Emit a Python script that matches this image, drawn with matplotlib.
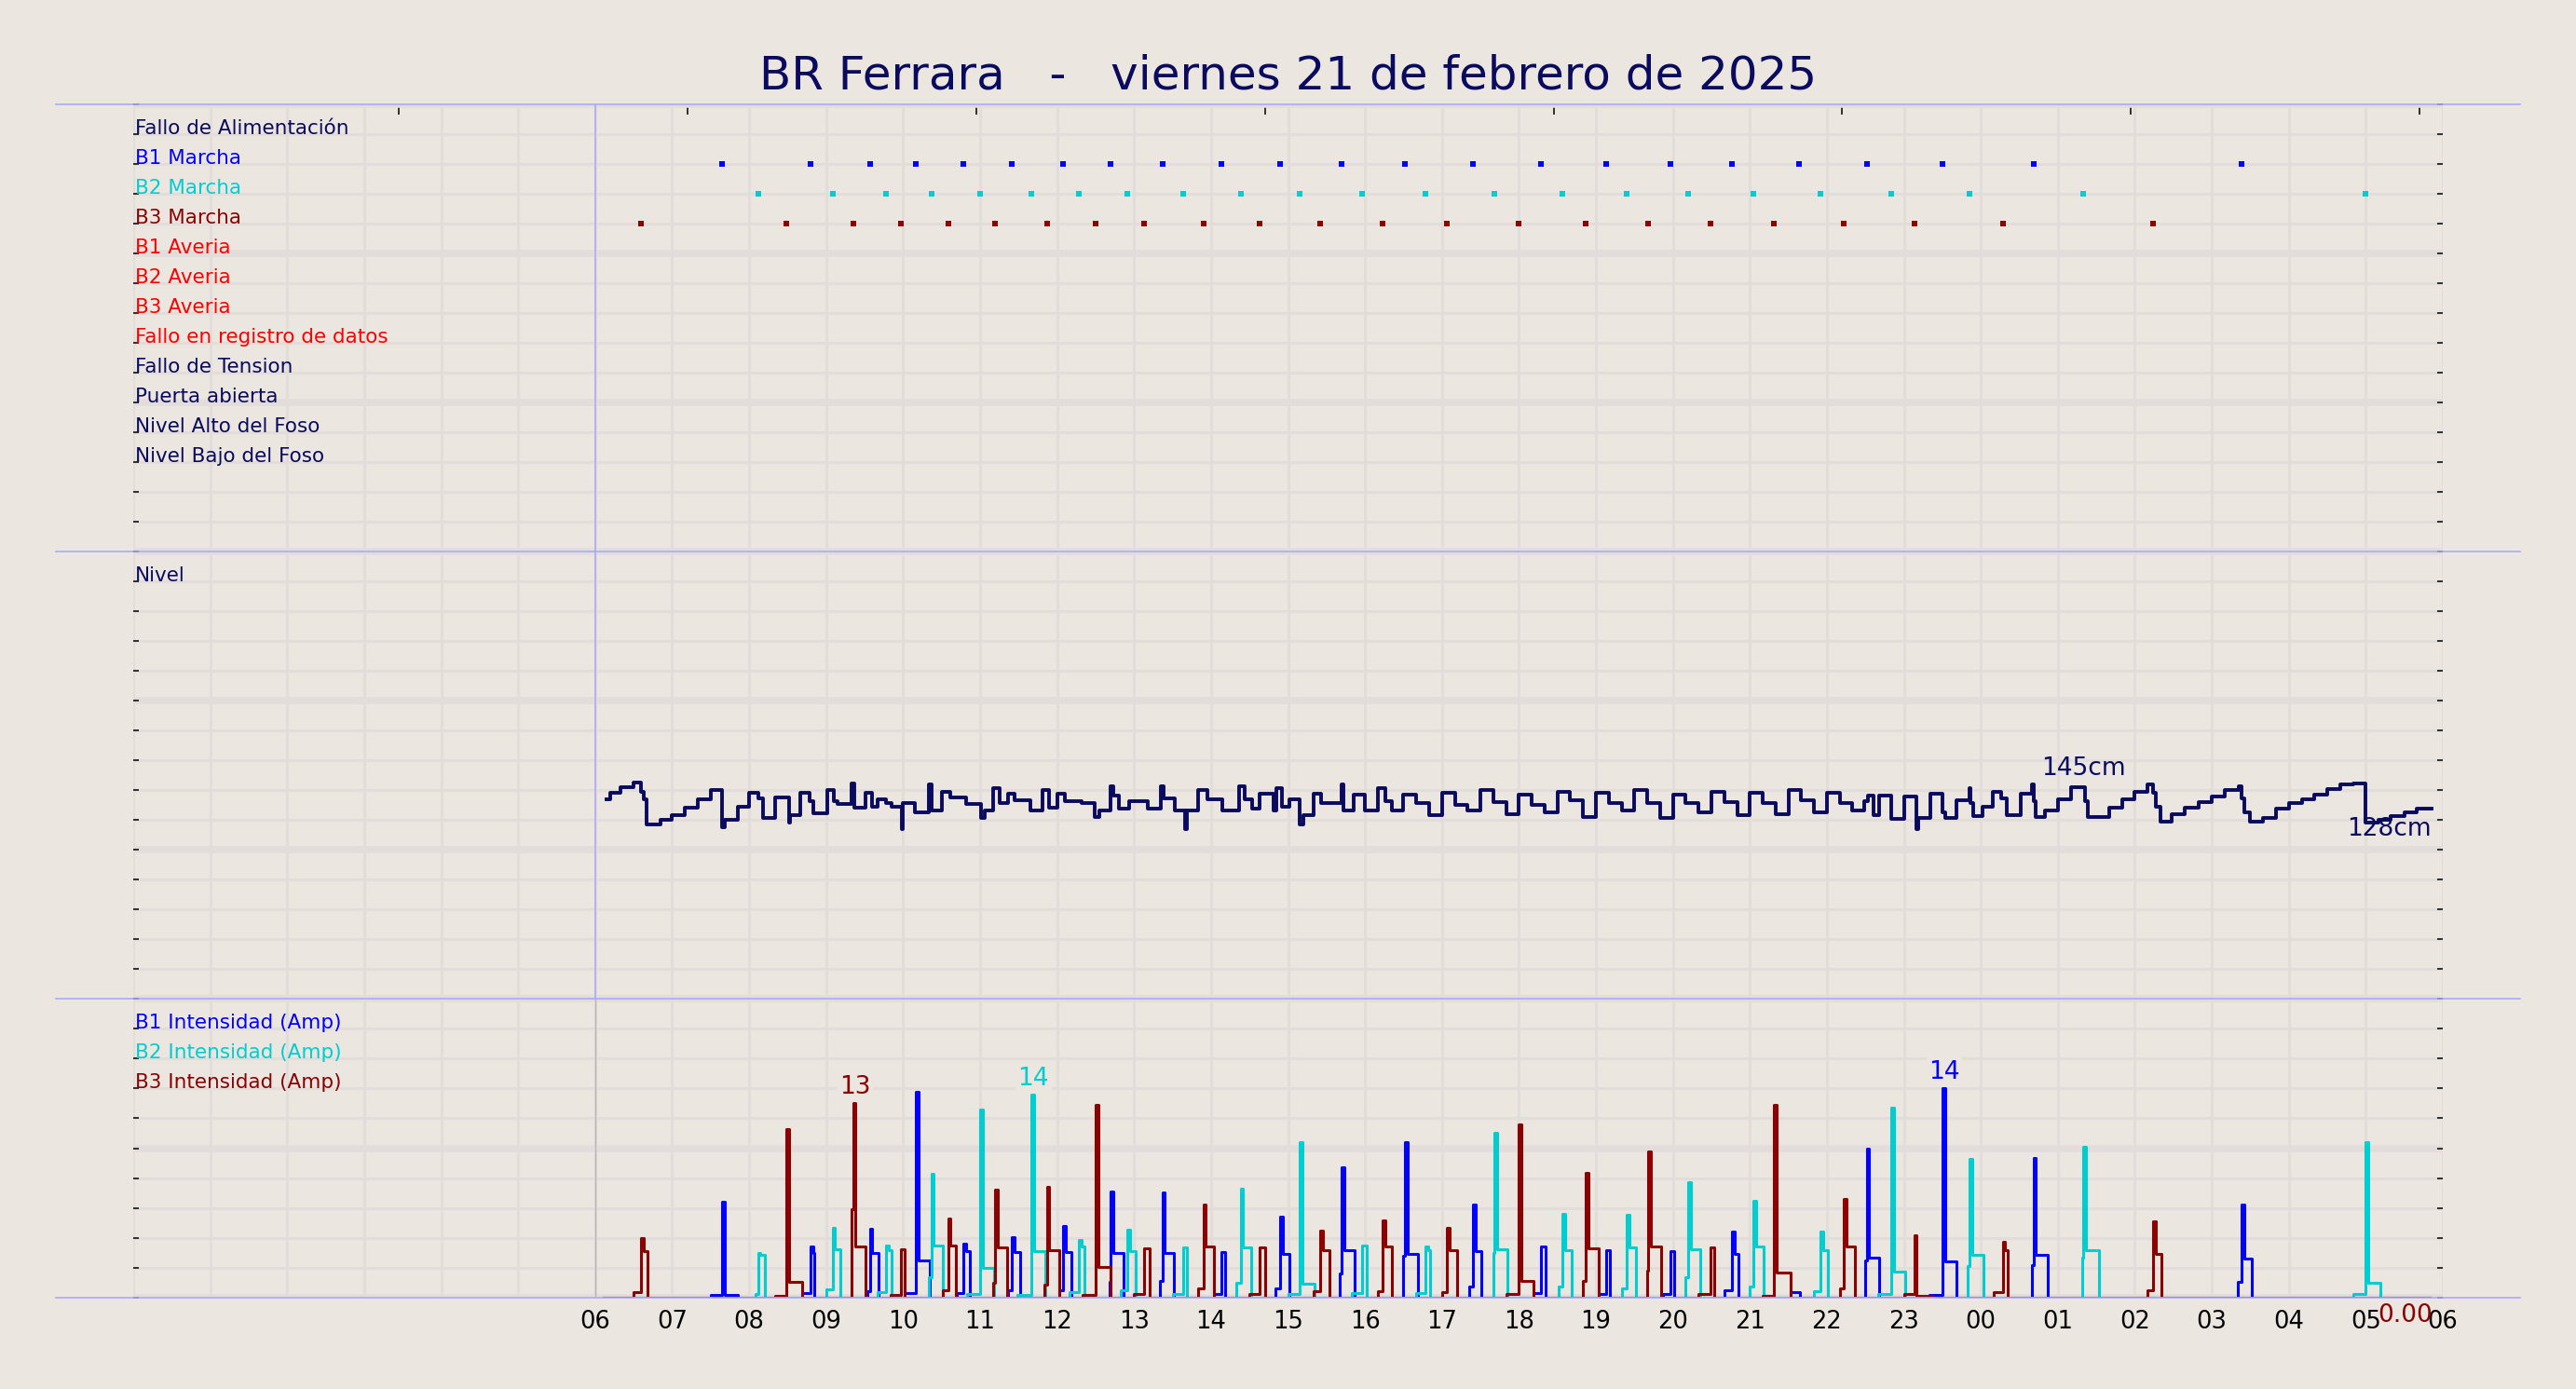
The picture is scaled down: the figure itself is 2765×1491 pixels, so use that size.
import numpy as np
import matplotlib.pyplot as plt
from matplotlib.ticker import MultipleLocator
from matplotlib.lines import Line2D

# colores
fondo = '#ebe6e0'
rejilla = '#e2dddb'
marino = '#0a0a5f'
lila = '#aaaaf8'
c_b1, c_b2, c_b3 = '#0000ff', '#00cdd0', '#8b0000'
rojo = '#ff0000'

titulo = 'BR Ferrara   -   viernes 21 de febrero de 2025'

etiquetas_eventos = ['Fallo de Alimentación', 'B1 Marcha', 'B2 Marcha', 'B3 Marcha',
                     'B1 Averia', 'B2 Averia', 'B3 Averia', 'Fallo en registro de datos',
                     'Fallo de Tension', 'Puerta abierta', 'Nivel Alto del Foso',
                     'Nivel Bajo del Foso']
colores_eventos = [marino, c_b1, c_b2, c_b3, rojo, rojo, rojo, rojo,
                   marino, marino, marino, marino]

# nivel del foso (cm), cambios de valor
nivel_t = ['06:09', '06:12', '06:20', '06:30', '06:36', '06:38', '06:40', '06:51', '07:00', '07:10',
           '07:20', '07:30', '07:39', '07:41', '07:51', '08:00', '08:07', '08:11', '08:20', '08:31',
           '08:32', '08:40', '08:47', '08:50', '09:01', '09:06', '09:09', '09:20', '09:22', '09:31',
           '09:36', '09:40', '09:47', '09:51', '09:59', '10:00', '10:09', '10:20', '10:22', '10:30',
           '10:37', '10:49', '11:01', '11:04', '11:10', '11:15', '11:22', '11:27', '11:39', '11:49',
           '11:54', '12:00', '12:06', '12:19', '12:29', '12:33', '12:42', '12:44', '12:48', '12:56',
           '13:11', '13:21', '13:23', '13:32', '13:40', '13:41', '13:50', '13:57', '14:09', '14:22',
           '14:26', '14:32', '14:38', '14:49', '14:51', '14:55', '15:01', '15:09', '15:12', '15:20',
           '15:26', '15:42', '15:43', '15:51', '16:00', '16:10', '16:16', '16:21', '16:30', '16:40',
           '16:50', '17:00', '17:10', '17:20', '17:30', '17:40', '17:50', '18:00', '18:10', '18:20',
           '18:30', '18:40', '18:50', '19:00', '19:10', '19:20', '19:30', '19:40', '19:50', '20:00',
           '20:10', '20:20', '20:30', '20:40', '20:50', '21:00', '21:10', '21:20', '21:30', '21:40',
           '21:50', '22:00', '22:10', '22:20', '22:29', '22:32', '22:36', '22:41', '22:50', '23:00',
           '23:10', '23:11', '23:21', '23:30', '23:32', '23:41', '23:51', '23:52', '23:54', '00:01',
           '00:09', '00:16', '00:20', '00:31', '00:40', '00:41', '00:43', '00:50', '01:00', '01:10',
           '01:21', '01:23', '01:40', '01:50', '02:00', '02:10', '02:14', '02:16', '02:20', '02:29',
           '02:39', '02:50', '03:00', '03:10', '03:21', '03:23', '03:25', '03:30', '03:40', '03:50',
           '04:00', '04:10', '04:20', '04:30', '04:40', '04:50', '05:00', '05:10', '05:19', '05:30',
           '05:40', '05:51']
nivel_cm = [134, 138, 142, 145, 139, 133.5, 117, 120, 123, 128,
            133.5, 140, 115, 120, 129, 138, 134.5, 121, 135, 118,
            123, 138, 132.5, 124.5, 140, 132.5, 130.5, 144.5, 128, 138,
            128.5, 133.5, 131.5, 128.5, 114, 131, 125, 143.5, 126.5, 138.5,
            135, 130.5, 121, 126.5, 141, 131.5, 137.5, 133, 126, 140,
            128, 137.5, 132.5, 131, 122, 126, 142.5, 136.5, 127.5, 132.5,
            127.5, 142.5, 134.5, 126, 114, 126, 140, 133.5, 126.5, 142.5,
            134, 127.5, 137.5, 126, 141, 128.5, 133.5, 117, 123, 137.5,
            131, 144, 126, 137, 126, 141, 132.5, 126, 137, 131,
            123, 138, 130, 126, 140, 132, 124, 137, 130, 125,
            139, 133, 122, 138, 131, 126, 140, 131, 121, 137,
            131, 125, 139, 132, 123, 138, 131, 124, 140, 133,
            125, 138, 131, 126, 132.5, 136, 123, 136, 120.5, 135.5,
            114, 121, 137.5, 125, 121, 133, 141, 131.5, 122.5, 129,
            139, 134.5, 123, 137.5, 144, 132.5, 122, 126, 134, 142,
            132.5, 122, 128, 133.5, 139, 143.5, 138, 128.5, 119, 123.5,
            128, 132, 135.5, 140, 142.5, 134.5, 125, 118.5, 121.5, 127.5,
            131, 134, 137, 140.5, 144, 144.5, 118, 120, 122.5, 125,
            127.7, 127.7]

# arranques de bombas: inicio, pico, amperios pico, amperios sostenidos, paro, amperios previos
b1_on = ['07:30', '08:41', '09:32', '10:01', '10:42', '11:22', '12:02', '12:41', '13:20', '14:02', '14:50', '15:40',
         '16:30', '17:21', '18:11', '19:02', '19:52', '20:40', '21:32', '22:30', '23:20', '00:40', '03:20']
b1_pk_t = ['07:39', '08:48', '09:34', '10:10', '10:47', '11:25', '12:05', '12:42', '13:22', '14:08', '14:54', '15:42',
           '16:31', '17:24', '18:17', '19:08', '19:58', '20:46', '21:38', '22:31', '23:30', '00:41', '03:23']
b1_pk = [6.4, 3.4, 4.6, 13.8, 3.6, 4.05, 4.8, 7.1, 7.05, 3.05, 5.4, 8.7,
         10.4, 6.2, 3.4, 3.2, 3.1, 4.45, 0.4, 10.0, 14.0, 9.35, 6.2]
b1_sost = [0.2, 3.0, 3.0, 2.5, 3.1, 3.05, 3.05, 3.0, 3.0, 3.05, 2.9, 3.2,
           2.9, 3.1, 3.4, 3.2, 3.1, 2.95, 0.4, 2.7, 2.4, 2.85, 2.6]
b1_off = ['07:51', '08:51', '09:41', '10:21', '10:52', '11:31', '12:11', '12:52', '13:31', '14:11', '15:01', '15:52',
          '16:41', '17:31', '18:21', '19:11', '20:01', '20:51', '21:39', '22:41', '23:41', '00:52', '03:31']
b1_pre = [0.2, 0.3, 0.45, 0.3, 0.3, 0.5, 0.5, 1.05, 1.15, 0.25, 0.65, 1.6,
          2.8, 0.75, 0.3, 0.25, 0.25, 0.5, 0.4, 2.5, 0.2, 2.15, 1.05]

b2_on = ['08:05', '09:00', '09:40', '10:20', '10:50', '11:29', '12:10', '12:50', '13:30', '14:20', '15:00', '15:50',
         '16:40', '17:40', '18:31', '19:20', '20:10', '21:00', '21:50', '22:40', '23:50', '01:19', '04:50']
b2_pk_t = ['08:07', '09:05', '09:47', '10:22', '11:00', '11:40', '12:17', '12:55', '13:38', '14:23', '15:09', '15:58',
           '16:47', '17:41', '18:34', '19:24', '20:12', '21:03', '21:55', '22:50', '23:51', '01:20', '05:00']
b2_pk = [3.0, 4.7, 3.5, 8.3, 12.6, 13.6, 3.85, 4.55, 3.35, 7.3, 10.4, 3.5,
         3.4, 11.0, 5.6, 5.55, 7.7, 6.45, 4.45, 12.7, 9.3, 10.1, 10.4]
b2_sost = [2.85, 3.25, 3.2, 3.5, 2.0, 3.1, 3.45, 3.1, 3.35, 3.35, 0.95, 3.5,
           3.15, 3.25, 3.15, 3.35, 3.25, 3.45, 3.15, 1.75, 2.85, 3.15, 1.0]
b2_off = ['08:12', '09:11', '09:51', '10:31', '11:11', '11:51', '12:21', '13:01', '13:41', '14:31', '15:21', '16:01',
          '16:51', '17:51', '18:41', '19:31', '20:21', '21:11', '22:01', '23:01', '00:02', '01:32', '05:11']
b2_pre = [0.25, 0.55, 0.35, 1.4, 0.25, 0.2, 0.35, 0.5, 0.25, 1.0, 0.25, 0.3,
          0.3, 3.0, 0.75, 0.65, 1.4, 0.75, 0.45, 0.25, 2.1, 2.7, 0.25]

b3_on = ['06:30', '08:20', '09:20', '09:50', '10:31', '11:10', '11:50', '12:20', '13:00', '13:50', '14:30', '15:20',
         '16:10', '17:00', '17:50', '18:50', '19:40', '20:20', '21:10', '22:10', '23:00', '00:10', '02:10']
b3_pk_t = ['06:36', '08:29', '09:21', '09:58', '10:35', '11:12', '11:52', '12:30', '13:08', '13:54', '14:38', '15:25',
           '16:14', '17:04', '18:00', '18:52', '19:41', '20:29', '21:19', '22:13', '23:08', '00:17', '02:14']
b3_pk = [4.0, 11.3, 13.0, 3.25, 5.3, 7.25, 7.4, 12.9, 3.3, 6.2, 3.35, 4.5,
         5.2, 4.65, 11.6, 8.35, 9.8, 3.35, 12.9, 6.6, 4.2, 3.75, 5.1]
b3_sost = [3.1, 1.05, 3.4, 3.25, 3.5, 3.35, 3.2, 2.05, 3.3, 3.4, 3.35, 3.15,
           3.4, 3.15, 1.15, 3.3, 3.4, 3.35, 1.7, 3.45, 0.15, 3.2, 2.95]
b3_off = ['06:41', '08:41', '09:31', '10:01', '10:41', '11:21', '12:02', '12:42', '13:12', '14:02', '14:42', '15:32',
          '16:21', '17:12', '18:11', '19:02', '19:51', '20:32', '21:32', '22:22', '23:22', '00:21', '02:21']
b3_pre = [0.4, 0.15, 5.9, 0.2, 0.5, 1.0, 0.9, 0.2, 0.25, 0.6, 0.25, 0.45,
          0.45, 0.4, 0.25, 1.1, 1.8, 0.25, 0.15, 0.6, 0.25, 0.35, 0.5]

inicio_registro, fin_registro = '06:07', '05:50'


def horas(t):
    h, m = t.split(':')
    v = int(h) + int(m) / 60
    return v + 24 if v < 6 else v


def serie(on, pk_t, pk, sost, off, pre):
    x, y = [horas(inicio_registro)], [0]
    for a, b, p, s, c, q in zip(on, pk_t, pk, sost, off, pre):
        ta, tb, tc = horas(a), horas(b), horas(c)
        x += [ta, tb, min(tb + 2 / 60, tc), tc]
        y += [q, p, s, 0]
    x.append(horas(fin_registro))
    y.append(0)
    return np.array(x), np.array(y)


fig = plt.figure(figsize=(27.65, 14.91), dpi=100, facecolor=fondo)
izq, ancho = 143 / 2765, (2622 - 143) / 2765
ax0 = fig.add_axes([izq, 1 - 592 / 1491, ancho, 480 / 1491])
ax1 = fig.add_axes([izq, 1 - 1072 / 1491, ancho, 480 / 1491])
ax2 = fig.add_axes([izq, 1 - 1393 / 1491, ancho, 321 / 1491])

for ax, top, mayor, menor in [(ax0, 15, 5, 1), (ax1, 300, 100, 20), (ax2, 20, 10, 2)]:
    ax.set_facecolor(fondo)
    ax.set_xlim(0, 30)
    ax.set_ylim(0, top)
    ax.set_axisbelow(True)
    for s in ax.spines.values():
        s.set_visible(False)
    ax.set_xticks(range(0, 31))
    ax.yaxis.set_major_locator(MultipleLocator(mayor))
    ax.yaxis.set_minor_locator(MultipleLocator(menor))
    ax.grid(axis='x', color=rejilla, lw=2.2)
    ax.grid(axis='y', which='major', color=rejilla, lw=5.4)
    ax.grid(axis='y', which='minor', color=rejilla, lw=2.2)
    ax.tick_params(axis='y', which='both', direction='in', length=4, width=1.1,
                   left=True, right=True, labelleft=False, colors='black')
    ax.tick_params(axis='x', length=0, labelbottom=False)

# panel de eventos
for i, (txt, col) in enumerate(zip(etiquetas_eventos, colores_eventos)):
    ax0.text(0.02, 14 - i, txt, color=col, fontsize=15.5, va='baseline', ha='left')
for fila, tp, col in [(13, b1_pk_t, c_b1), (12, b2_pk_t, c_b2), (11, b3_pk_t, c_b3)]:
    xs = [horas(t) for t in tp]
    ax0.plot(xs, [fila] * len(xs), ls='none', marker='s', ms=3.8, mew=0, color=col)
ax0.axvline(6, color=lila, lw=1.2)
sec = ax0.secondary_xaxis('top')
sec.set_xticks([3.45, 7.2, 10.95, 14.7, 18.45, 22.2, 25.95, 29.7])
sec.set_xticklabels([''] * 8)
sec.tick_params(direction='in', length=8, width=1.1, colors='black')
for s in sec.spines.values():
    s.set_visible(False)

# panel de nivel
xn = np.array([horas(t) for t in nivel_t])
yn = np.array(nivel_cm)
ax1.plot(xn, yn, drawstyle='steps-post', color=marino, lw=2.8)
ax1.text(0.02, 280, 'Nivel', color=marino, fontsize=15.5, va='baseline', ha='left')
ax1.axvline(6, color=lila, lw=1.2)
ax1.text(25.33, 146.5, f'{yn.max():.0f}cm', color=marino, fontsize=19, ha='center', va='bottom')
ax1.text(xn[-1], yn[-1] - 6, f'{yn[-1]:.0f}cm', color=marino, fontsize=19, ha='right', va='top')

# panel de intensidades
ax2.axvline(6, color='#b5b5b5', lw=1)
series = [(serie(b1_on, b1_pk_t, b1_pk, b1_sost, b1_off, b1_pre), c_b1, 'B1 Intensidad (Amp)'),
          (serie(b2_on, b2_pk_t, b2_pk, b2_sost, b2_off, b2_pre), c_b2, 'B2 Intensidad (Amp)'),
          (serie(b3_on, b3_pk_t, b3_pk, b3_sost, b3_off, b3_pre), c_b3, 'B3 Intensidad (Amp)')]
for k, ((x, y), col, txt) in enumerate(series):
    ax2.plot(x, y, drawstyle='steps-post', color=col, lw=2.2)
    ax2.text(0.02, 18 - 2 * k, txt, color=col, fontsize=15.5, va='baseline', ha='left')
    i = int(np.argmax(y))
    ax2.annotate(f'{y[i]:.0f}', (x[i] + 1.5 / 60, y[i]), xytext=(0, 3), textcoords='offset points',
                 ha='center', va='bottom', fontsize=19, color=col,
                 bbox=dict(boxstyle='square,pad=0.1', fc=fondo, ec='none'))
x3, y3 = series[2][0]
ax2.annotate(f'{y3[-1]:.2f}', (x3[-1], 0), xytext=(2, -4), textcoords='offset points',
             ha='right', va='top', fontsize=19, color=c_b3)
ax2.set_xticklabels(['' if h < 6 else f'{h % 24:02d}' for h in range(31)], fontsize=18.5)
ax2.tick_params(axis='x', labelbottom=True, pad=9)

# separadores y titulo
for yp in [112, 592, 1072, 1393]:
    fig.add_artist(Line2D([60 / 2765, 2705 / 2765], [1 - yp / 1491] * 2,
                          transform=fig.transFigure, color=lila, lw=1.2))
fig.text(0.5, 1 - 81 / 1491, titulo, ha='center', va='center', fontsize=36, color=marino)

fig.savefig('out.png', dpi=100, facecolor=fondo)
